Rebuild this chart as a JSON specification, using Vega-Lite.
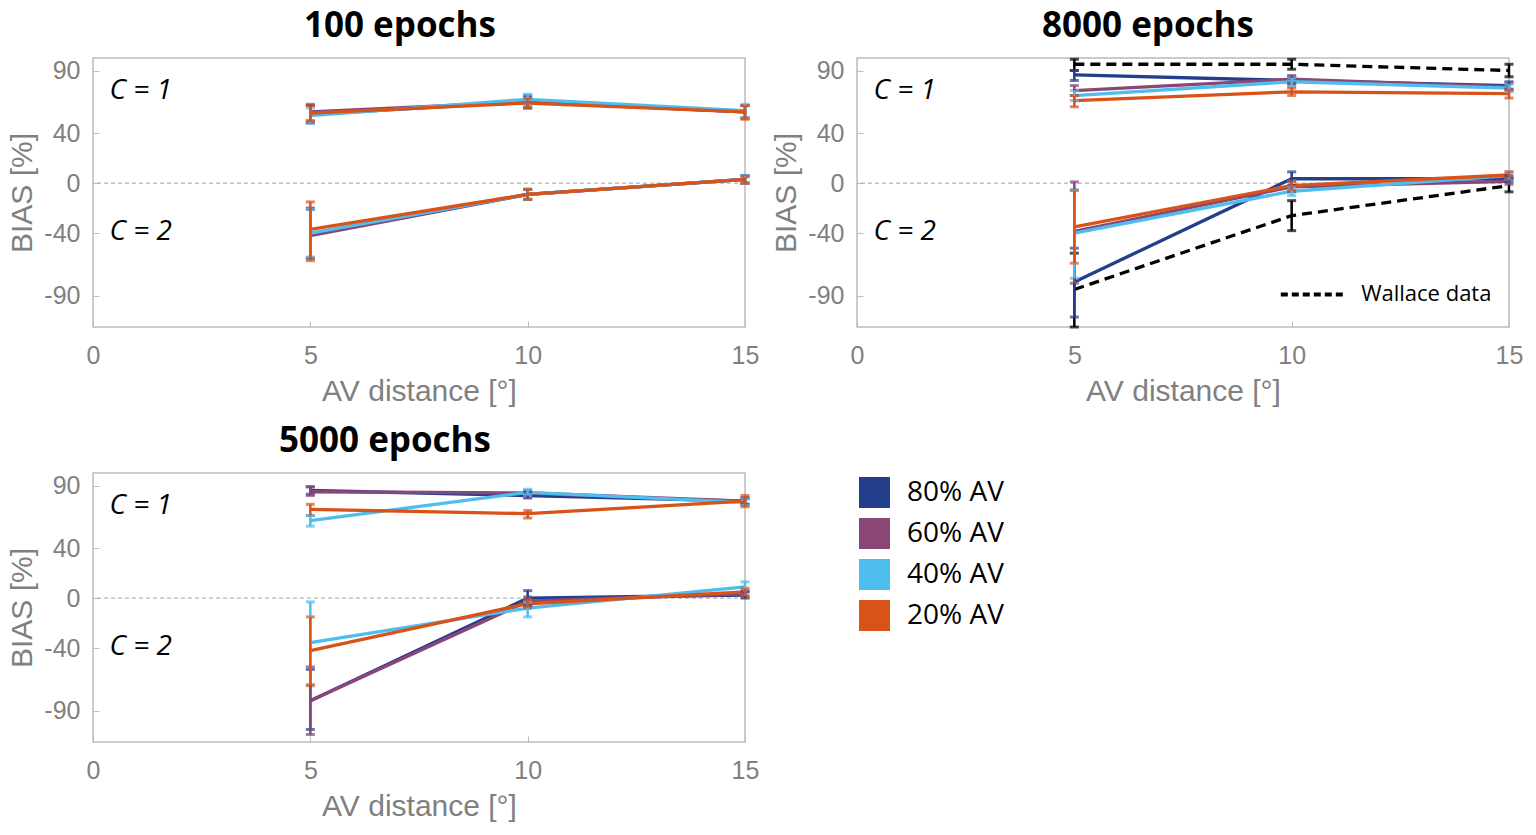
{
  "$schema": "https://vega.github.io/schema/vega-lite/v6.json",
  "padding": {"left": 7, "top": 7, "right": 5, "bottom": 5},
  "background": "white",
  "datasets": {
    "one": [{}],
    "p100": [
      {"s": "80% AV", "c": "C1", "x": 5, "y": 55, "lo": 48, "hi": 62},
      {"s": "80% AV", "c": "C1", "x": 10, "y": 65, "lo": 60, "hi": 70},
      {"s": "80% AV", "c": "C1", "x": 15, "y": 57, "lo": 52, "hi": 62},
      {"s": "80% AV", "c": "C2", "x": 5, "y": -41, "lo": -60, "hi": -20},
      {"s": "80% AV", "c": "C2", "x": 10, "y": -9, "lo": -13, "hi": -5},
      {"s": "80% AV", "c": "C2", "x": 15, "y": 3, "lo": 0, "hi": 6},
      {"s": "60% AV", "c": "C1", "x": 5, "y": 57, "lo": 50, "hi": 63},
      {"s": "60% AV", "c": "C1", "x": 10, "y": 65, "lo": 61, "hi": 69},
      {"s": "60% AV", "c": "C1", "x": 15, "y": 57, "lo": 52, "hi": 62},
      {"s": "60% AV", "c": "C2", "x": 5, "y": -42, "lo": -60, "hi": -21},
      {"s": "60% AV", "c": "C2", "x": 10, "y": -9, "lo": -13, "hi": -5},
      {"s": "60% AV", "c": "C2", "x": 15, "y": 3, "lo": 0, "hi": 6},
      {"s": "40% AV", "c": "C1", "x": 5, "y": 54, "lo": 48, "hi": 60},
      {"s": "40% AV", "c": "C1", "x": 10, "y": 67, "lo": 62, "hi": 71},
      {"s": "40% AV", "c": "C1", "x": 15, "y": 58, "lo": 52, "hi": 63},
      {"s": "40% AV", "c": "C2", "x": 5, "y": -40, "lo": -59, "hi": -21},
      {"s": "40% AV", "c": "C2", "x": 10, "y": -9, "lo": -13, "hi": -5},
      {"s": "40% AV", "c": "C2", "x": 15, "y": 3, "lo": 0, "hi": 6},
      {"s": "20% AV", "c": "C1", "x": 5, "y": 56, "lo": 49, "hi": 62},
      {"s": "20% AV", "c": "C1", "x": 10, "y": 64, "lo": 60, "hi": 68},
      {"s": "20% AV", "c": "C1", "x": 15, "y": 57, "lo": 51, "hi": 62},
      {"s": "20% AV", "c": "C2", "x": 5, "y": -37, "lo": -62, "hi": -15},
      {"s": "20% AV", "c": "C2", "x": 10, "y": -9, "lo": -13, "hi": -5},
      {"s": "20% AV", "c": "C2", "x": 15, "y": 3, "lo": 0, "hi": 5}
    ],
    "p8000": [
      {"s": "80% AV", "c": "C1", "x": 5, "y": 86.5, "lo": 82, "hi": 90},
      {"s": "80% AV", "c": "C1", "x": 10, "y": 82, "lo": 79, "hi": 85},
      {"s": "80% AV", "c": "C1", "x": 15, "y": 78, "lo": 75, "hi": 81},
      {"s": "80% AV", "c": "C2", "x": 5, "y": -79, "lo": -107, "hi": -52},
      {"s": "80% AV", "c": "C2", "x": 10, "y": 3.5, "lo": -2, "hi": 9},
      {"s": "80% AV", "c": "C2", "x": 15, "y": 3.5, "lo": 1, "hi": 6},
      {"s": "60% AV", "c": "C1", "x": 5, "y": 74, "lo": 70, "hi": 78},
      {"s": "60% AV", "c": "C1", "x": 10, "y": 83, "lo": 80, "hi": 86},
      {"s": "60% AV", "c": "C1", "x": 15, "y": 77, "lo": 74, "hi": 80},
      {"s": "60% AV", "c": "C2", "x": 5, "y": -38.5, "lo": -80, "hi": 1},
      {"s": "60% AV", "c": "C2", "x": 10, "y": -3, "lo": -7, "hi": 1},
      {"s": "60% AV", "c": "C2", "x": 15, "y": 1.5, "lo": -1, "hi": 4},
      {"s": "40% AV", "c": "C1", "x": 5, "y": 70, "lo": 66, "hi": 74},
      {"s": "40% AV", "c": "C1", "x": 10, "y": 81, "lo": 77, "hi": 84},
      {"s": "40% AV", "c": "C1", "x": 15, "y": 76, "lo": 73, "hi": 79},
      {"s": "40% AV", "c": "C2", "x": 5, "y": -40, "lo": -76, "hi": -5},
      {"s": "40% AV", "c": "C2", "x": 10, "y": -6.5, "lo": -10, "hi": -3},
      {"s": "40% AV", "c": "C2", "x": 15, "y": 6, "lo": 3, "hi": 9},
      {"s": "20% AV", "c": "C1", "x": 5, "y": 66, "lo": 61, "hi": 70},
      {"s": "20% AV", "c": "C1", "x": 10, "y": 73, "lo": 70, "hi": 76},
      {"s": "20% AV", "c": "C1", "x": 15, "y": 71.5, "lo": 68, "hi": 75},
      {"s": "20% AV", "c": "C2", "x": 5, "y": -35, "lo": -64, "hi": -6},
      {"s": "20% AV", "c": "C2", "x": 10, "y": -2, "lo": -6, "hi": 2},
      {"s": "20% AV", "c": "C2", "x": 15, "y": 6.5, "lo": 4, "hi": 9}
    ],
    "wallace": [
      {"c": "C1", "x": 5, "y": 95, "lo": 90, "hi": 99},
      {"c": "C1", "x": 10, "y": 95, "lo": 91, "hi": 99},
      {"c": "C1", "x": 15, "y": 90, "lo": 85, "hi": 95},
      {"c": "C2", "x": 5, "y": -85, "lo": -115, "hi": -56},
      {"c": "C2", "x": 10, "y": -26, "lo": -38, "hi": -14},
      {"c": "C2", "x": 15, "y": -2, "lo": -7, "hi": 3.5}
    ],
    "p5000": [
      {"s": "80% AV", "c": "C1", "x": 5, "y": 86, "lo": 83, "hi": 89},
      {"s": "80% AV", "c": "C1", "x": 10, "y": 82, "lo": 80, "hi": 85},
      {"s": "80% AV", "c": "C1", "x": 15, "y": 77.5, "lo": 75, "hi": 80},
      {"s": "80% AV", "c": "C2", "x": 5, "y": -82, "lo": -105, "hi": -57},
      {"s": "80% AV", "c": "C2", "x": 10, "y": 0, "lo": -6, "hi": 6},
      {"s": "80% AV", "c": "C2", "x": 15, "y": 2.5, "lo": 0, "hi": 5},
      {"s": "60% AV", "c": "C1", "x": 5, "y": 85, "lo": 82, "hi": 89},
      {"s": "60% AV", "c": "C1", "x": 10, "y": 84, "lo": 81, "hi": 86},
      {"s": "60% AV", "c": "C1", "x": 15, "y": 77.5, "lo": 75, "hi": 80},
      {"s": "60% AV", "c": "C2", "x": 5, "y": -82, "lo": -109, "hi": -55},
      {"s": "60% AV", "c": "C2", "x": 10, "y": -2.5, "lo": -6, "hi": 1},
      {"s": "60% AV", "c": "C2", "x": 15, "y": 3.5, "lo": 1, "hi": 6},
      {"s": "40% AV", "c": "C1", "x": 5, "y": 62, "lo": 57.5, "hi": 66},
      {"s": "40% AV", "c": "C1", "x": 10, "y": 84.5, "lo": 82, "hi": 87},
      {"s": "40% AV", "c": "C1", "x": 15, "y": 76.5, "lo": 74, "hi": 79},
      {"s": "40% AV", "c": "C2", "x": 5, "y": -35.5, "lo": -69, "hi": -3},
      {"s": "40% AV", "c": "C2", "x": 10, "y": -8, "lo": -15, "hi": -3},
      {"s": "40% AV", "c": "C2", "x": 15, "y": 9, "lo": 5, "hi": 13},
      {"s": "20% AV", "c": "C1", "x": 5, "y": 71, "lo": 66, "hi": 75},
      {"s": "20% AV", "c": "C1", "x": 10, "y": 67.5, "lo": 64, "hi": 70},
      {"s": "20% AV", "c": "C1", "x": 15, "y": 77.5, "lo": 73, "hi": 82},
      {"s": "20% AV", "c": "C2", "x": 5, "y": -42, "lo": -70, "hi": -15},
      {"s": "20% AV", "c": "C2", "x": 10, "y": -4.5, "lo": -8, "hi": -1},
      {"s": "20% AV", "c": "C2", "x": 15, "y": 5, "lo": 2, "hi": 8}
    ]
  },
  "resolve": {"scale": {"color": "independent"}, "legend": {"color": "independent"}},
  "spacing": 16,
  "vconcat": [
    {
      "hconcat": [
        {
          "width": 652, "height": 269,
          "title": {"text": "100 epochs", "dx": -19},
          "layer": [
            {"data": {"name": "one"}, "mark": {"type": "rule", "color": "#a0a0a0", "strokeDash": [4, 3], "strokeWidth": 1},
             "encoding": {"y": {"datum": 0, "type": "quantitative", "scale": {"domain": [-115, 100], "nice": false, "zero": false, "padding": 0}}}},
            {"data": {"name": "p100"}, "mark": {"type": "line", "strokeWidth": 3.3},
             "encoding": {
               "x": {"field": "x", "type": "quantitative", "scale": {"domain": [0, 15], "nice": false, "padding": 0}, "axis": {"values": [0, 5, 10, 15], "title": "AV distance [°]"}},
               "y": {"field": "y", "type": "quantitative", "axis": {"values": [-90, -40, 0, 40, 90], "title": "BIAS [%]", "labelExpr": "'' + datum.value"}},
               "color": {"field": "s", "type": "nominal", "sort": null, "scale": {"domain": ["80% AV", "60% AV", "40% AV", "20% AV"], "range": ["#233f8c", "#8a4677", "#4dbeee", "#d95319"]}, "legend": null},
               "detail": {"field": "c"}}},
            {"data": {"name": "p100"}, "mark": {"type": "errorbar", "ticks": {"size": 9, "thickness": 3}, "thickness": 2.5},
             "encoding": {
               "x": {"field": "x", "type": "quantitative", "title": "AV distance [°]"},
               "y": {"field": "lo", "type": "quantitative", "title": "BIAS [%]"},
               "y2": {"field": "hi"},
               "color": {"field": "s", "type": "nominal", "legend": null},
               "detail": {"field": "c"}}},
            {"data": {"name": "one"}, "mark": {"type": "text", "text": "C = 1", "font": "Open Sans", "fontStyle": "italic", "fontSize": 28, "align": "left", "baseline": "middle", "color": "black"},
             "encoding": {"x": {"datum": 0.38, "type": "quantitative"}, "y": {"datum": 74, "type": "quantitative"}}},
            {"data": {"name": "one"}, "mark": {"type": "text", "text": "C = 2", "font": "Open Sans", "fontStyle": "italic", "fontSize": 28, "align": "left", "baseline": "middle", "color": "black"},
             "encoding": {"x": {"datum": 0.38, "type": "quantitative"}, "y": {"datum": -39, "type": "quantitative"}}}
          ]
        },
        {
          "width": 652, "height": 269,
          "title": {"text": "8000 epochs", "dx": -35},
          "layer": [
            {"data": {"name": "one"}, "mark": {"type": "rule", "color": "#a0a0a0", "strokeDash": [4, 3], "strokeWidth": 1},
             "encoding": {"y": {"datum": 0, "type": "quantitative", "scale": {"domain": [-115, 100], "nice": false, "zero": false, "padding": 0}}}},
            {"data": {"name": "wallace"}, "mark": {"type": "line", "strokeWidth": 3.3, "color": "black", "strokeDash": [10, 6]},
             "encoding": {
               "x": {"field": "x", "type": "quantitative", "scale": {"domain": [0, 15], "nice": false, "padding": 0}, "axis": {"values": [0, 5, 10, 15], "title": "AV distance [°]"}},
               "y": {"field": "y", "type": "quantitative", "axis": {"values": [-90, -40, 0, 40, 90], "title": "BIAS [%]", "labelExpr": "'' + datum.value"}},
               "detail": {"field": "c"}}},
            {"data": {"name": "wallace"}, "mark": {"type": "errorbar", "color": "black", "ticks": {"size": 9, "thickness": 3}, "thickness": 2.5},
             "encoding": {
               "x": {"field": "x", "type": "quantitative", "title": "AV distance [°]"},
               "y": {"field": "lo", "type": "quantitative", "title": "BIAS [%]"},
               "y2": {"field": "hi"},
               "detail": {"field": "c"}}},
            {"data": {"name": "p8000"}, "mark": {"type": "line", "strokeWidth": 3.3},
             "encoding": {
               "x": {"field": "x", "type": "quantitative", "title": "AV distance [°]"},
               "y": {"field": "y", "type": "quantitative", "title": "BIAS [%]"},
               "color": {"field": "s", "type": "nominal", "sort": null, "scale": {"domain": ["80% AV", "60% AV", "40% AV", "20% AV"], "range": ["#233f8c", "#8a4677", "#4dbeee", "#d95319"]}, "legend": null},
               "detail": {"field": "c"}}},
            {"data": {"name": "p8000"}, "mark": {"type": "errorbar", "ticks": {"size": 9, "thickness": 3}, "thickness": 2.5},
             "encoding": {
               "x": {"field": "x", "type": "quantitative", "title": "AV distance [°]"},
               "y": {"field": "lo", "type": "quantitative", "title": "BIAS [%]"},
               "y2": {"field": "hi"},
               "color": {"field": "s", "type": "nominal", "legend": null},
               "detail": {"field": "c"}}},
            {"data": {"name": "one"}, "mark": {"type": "text", "text": "C = 1", "font": "Open Sans", "fontStyle": "italic", "fontSize": 28, "align": "left", "baseline": "middle", "color": "black"},
             "encoding": {"x": {"datum": 0.38, "type": "quantitative"}, "y": {"datum": 74, "type": "quantitative"}}},
            {"data": {"name": "one"}, "mark": {"type": "text", "text": "C = 2", "font": "Open Sans", "fontStyle": "italic", "fontSize": 28, "align": "left", "baseline": "middle", "color": "black"},
             "encoding": {"x": {"datum": 0.38, "type": "quantitative"}, "y": {"datum": -39, "type": "quantitative"}}},
            {"data": {"name": "one"}, "mark": {"type": "rule", "color": "black", "strokeDash": [7, 4], "strokeWidth": 4},
             "encoding": {"x": {"datum": 9.75, "type": "quantitative"}, "x2": {"datum": 11.25}, "y": {"datum": -89, "type": "quantitative"}}},
            {"data": {"name": "one"}, "mark": {"type": "text", "text": "Wallace data", "font": "Open Sans", "fontSize": 22, "align": "left", "baseline": "middle", "color": "black"},
             "encoding": {"x": {"datum": 11.6, "type": "quantitative"}, "y": {"datum": -89, "type": "quantitative"}}}
          ]
        }
      ],
      "spacing": 11,
      "resolve": {"scale": {"color": "independent"}, "legend": {"color": "independent"}}
    },
    {
      "width": 652, "height": 269,
      "title": {"text": "5000 epochs", "dx": -34},
      "layer": [
        {"data": {"name": "p5000"}, "mark": {"type": "square", "size": 0, "filled": true, "opacity": 1},
         "encoding": {
           "x": {"field": "x", "type": "quantitative", "scale": {"domain": [0, 15], "nice": false, "padding": 0}, "axis": {"values": [0, 5, 10, 15], "title": "AV distance [°]"}},
           "y": {"field": "y", "type": "quantitative", "scale": {"domain": [-115, 100], "nice": false, "zero": false, "padding": 0}, "axis": {"values": [-90, -40, 0, 40, 90], "title": "BIAS [%]", "labelExpr": "'' + datum.value"}},
           "color": {"field": "s", "type": "nominal", "sort": null, "scale": {"domain": ["80% AV", "60% AV", "40% AV", "20% AV"], "range": ["#233f8c", "#8a4677", "#4dbeee", "#d95319"]},
             "legend": {"orient": "none", "legendX": 766, "legendY": 4, "title": null, "symbolType": "square", "symbolSize": 961, "symbolStrokeWidth": 0, "symbolOpacity": 1, "labelFont": "Open Sans", "labelFontSize": 28, "labelColor": "black", "labelOffset": 17, "rowPadding": 10, "padding": 0,
               "encode": {"symbols": {"update": {"opacity": {"value": 1}, "fillOpacity": {"value": 1}}}}}}}},
        {"data": {"name": "one"}, "mark": {"type": "rule", "color": "#a0a0a0", "strokeDash": [4, 3], "strokeWidth": 1},
         "encoding": {"y": {"datum": 0, "type": "quantitative"}}},
        {"data": {"name": "p5000"}, "mark": {"type": "line", "strokeWidth": 3.3},
         "encoding": {
           "x": {"field": "x", "type": "quantitative", "title": "AV distance [°]"},
           "y": {"field": "y", "type": "quantitative", "title": "BIAS [%]"},
           "color": {"field": "s", "type": "nominal", "sort": null},
           "detail": {"field": "c"}}},
        {"data": {"name": "p5000"}, "mark": {"type": "errorbar", "ticks": {"size": 9, "thickness": 3}, "thickness": 2.5},
         "encoding": {
           "x": {"field": "x", "type": "quantitative", "title": "AV distance [°]"},
           "y": {"field": "lo", "type": "quantitative", "title": "BIAS [%]"},
           "y2": {"field": "hi"},
           "color": {"field": "s", "type": "nominal"},
           "detail": {"field": "c"}}},
        {"data": {"name": "one"}, "mark": {"type": "text", "text": "C = 1", "font": "Open Sans", "fontStyle": "italic", "fontSize": 28, "align": "left", "baseline": "middle", "color": "black"},
         "encoding": {"x": {"datum": 0.38, "type": "quantitative"}, "y": {"datum": 74, "type": "quantitative"}}},
        {"data": {"name": "one"}, "mark": {"type": "text", "text": "C = 2", "font": "Open Sans", "fontStyle": "italic", "fontSize": 28, "align": "left", "baseline": "middle", "color": "black"},
         "encoding": {"x": {"datum": 0.38, "type": "quantitative"}, "y": {"datum": -39, "type": "quantitative"}}}
      ]
    }
  ],
  "config": {
    "font": "Liberation Sans",
    "view": {"stroke": "#bcbcbc", "strokeWidth": 1.5},
    "scale": {"continuousPadding": 0},
    "axis": {"grid": false, "domain": false, "labelColor": "#808080", "titleColor": "#808080", "labelFont": "Liberation Sans", "titleFont": "Liberation Sans", "labelFontSize": 25, "titleFontSize": 30, "titleFontWeight": "normal", "tickColor": "#bcbcbc", "tickSize": -6, "tickWidth": 1, "labelFlush": false},
    "axisX": {"labelPadding": 22, "titlePadding": 8},
    "axisY": {"labelPadding": 19, "titlePadding": 6},
    "title": {"font": "Open Sans", "fontSize": 35, "fontWeight": "bold", "color": "black", "offset": 14}
  }
}
